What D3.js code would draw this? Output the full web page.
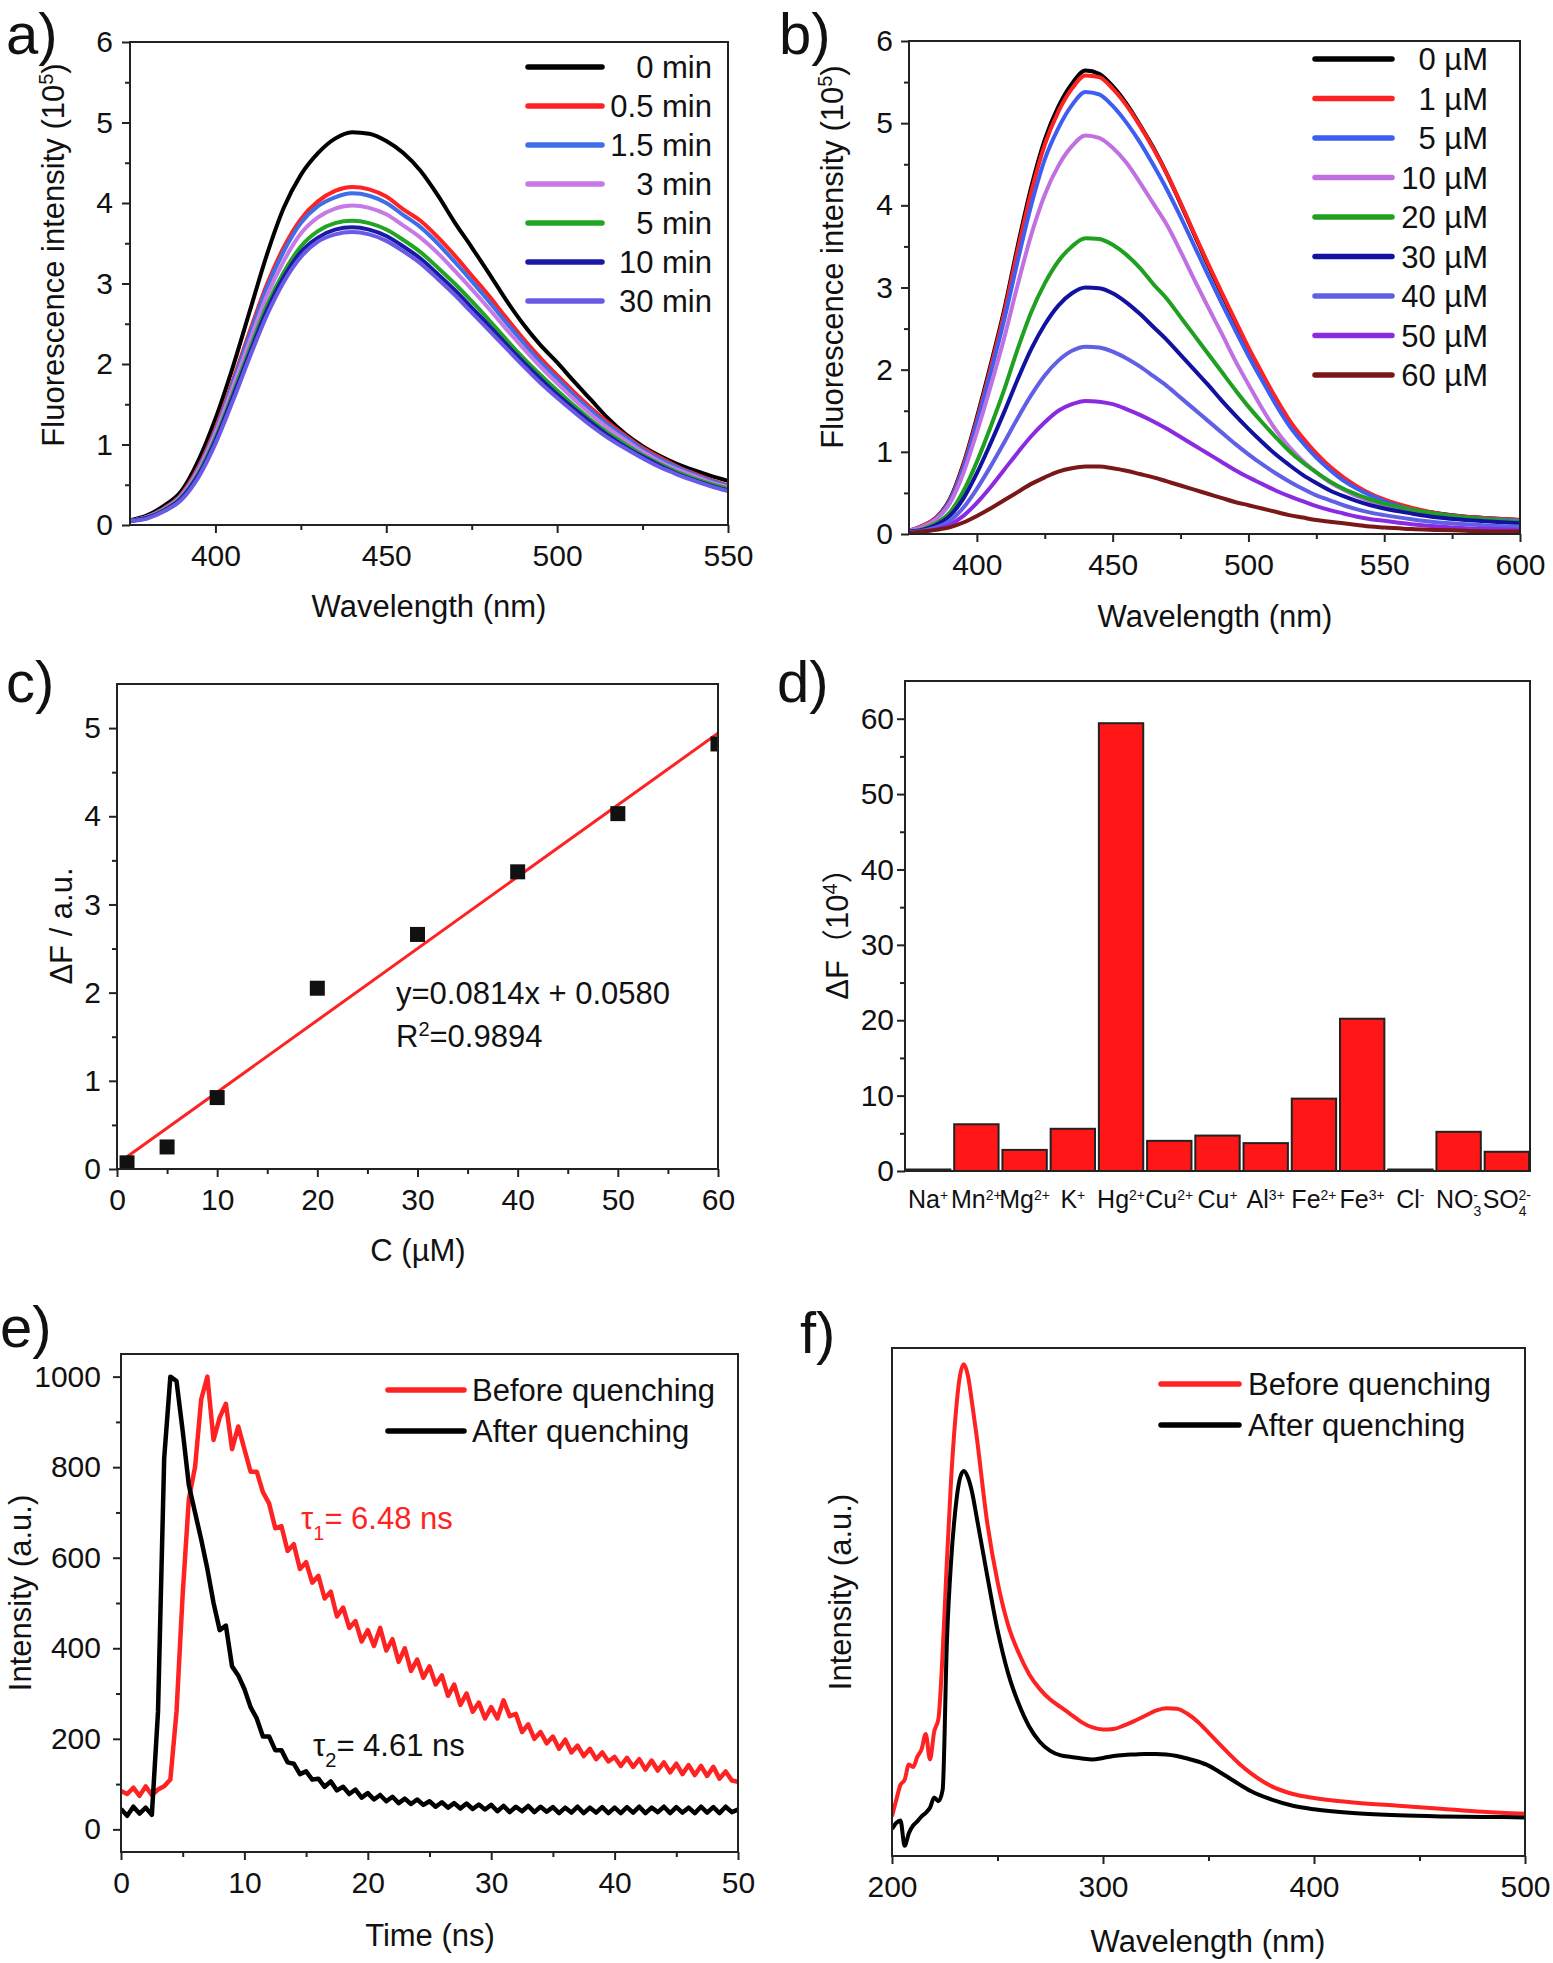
<!DOCTYPE html>
<html>
<head>
<meta charset="utf-8">
<script src="https://cdn.jsdelivr.net/npm/d3@7"></script>
<style>
  body { margin: 0; background: #fff; }
  svg text { font-family: "Liberation Sans", Arial, "Noto Sans CJK SC", sans-serif; fill: #111; }
</style>
</head>
<body>
<svg id="fig" width="1553" height="1963"></svg>
<script>
// ---------- panel a: emission vs time ----------
var wlA = [375,380,385,390,395,400,405,410,415,420,425,430,435,440,445,450,455,460,465,470,475,480,485,490,495,500,505,510,515,520,525,530,535,540,545,550];
var a0   = [0.06,0.12,0.24,0.42,0.80,1.32,1.95,2.65,3.35,3.94,4.35,4.62,4.80,4.88,4.86,4.77,4.62,4.40,4.10,3.76,3.45,3.13,2.80,2.50,2.24,2.02,1.78,1.55,1.32,1.13,0.98,0.86,0.76,0.68,0.61,0.55];
var a05  = [0.05,0.10,0.21,0.38,0.72,1.20,1.78,2.40,2.98,3.45,3.80,4.02,4.15,4.20,4.17,4.08,3.92,3.78,3.58,3.35,3.10,2.85,2.58,2.32,2.08,1.86,1.65,1.45,1.27,1.11,0.96,0.84,0.73,0.64,0.56,0.49];
var a15  = [0.05,0.10,0.20,0.37,0.70,1.17,1.75,2.36,2.94,3.40,3.75,3.96,4.07,4.12,4.09,4.00,3.85,3.70,3.50,3.27,3.03,2.78,2.52,2.27,2.03,1.82,1.61,1.42,1.24,1.09,0.94,0.82,0.72,0.63,0.55,0.48];
var a3   = [0.05,0.10,0.20,0.36,0.68,1.14,1.70,2.28,2.84,3.28,3.62,3.82,3.93,3.97,3.94,3.86,3.72,3.57,3.38,3.16,2.93,2.69,2.44,2.20,1.97,1.76,1.56,1.37,1.20,1.05,0.91,0.79,0.69,0.61,0.53,0.47];
var a5   = [0.05,0.09,0.19,0.34,0.64,1.08,1.62,2.18,2.72,3.14,3.46,3.65,3.75,3.78,3.75,3.67,3.54,3.39,3.20,3.00,2.78,2.55,2.31,2.08,1.87,1.67,1.48,1.30,1.14,1.00,0.87,0.76,0.66,0.58,0.51,0.45];
var a10  = [0.05,0.09,0.18,0.33,0.62,1.05,1.58,2.13,2.66,3.08,3.39,3.57,3.67,3.70,3.67,3.59,3.46,3.31,3.12,2.92,2.70,2.48,2.25,2.03,1.82,1.62,1.44,1.27,1.11,0.97,0.85,0.74,0.64,0.56,0.49,0.43];
var a30  = [0.05,0.08,0.17,0.31,0.59,1.01,1.53,2.08,2.60,3.02,3.33,3.52,3.61,3.64,3.61,3.53,3.40,3.25,3.06,2.86,2.64,2.42,2.20,1.98,1.77,1.58,1.40,1.23,1.08,0.95,0.83,0.72,0.63,0.55,0.48,0.42];
var labelsA = ["0 min","0.5 min","1.5 min","3 min","5 min","10 min","30 min"];
var colorsA = ["#000000","#ff2222","#3f6fe6","#c77ae6","#22a522","#1a1aa6","#6a5ae6"];

// ---------- panel b: emission vs Hg2+ ----------
var wlB = [375,380,385,390,395,400,405,410,415,420,425,430,435,440,445,450,455,460,465,470,475,480,485,490,495,500,505,510,515,520,525,530,535,540,545,550,560,570,580,590,600];
var b0  = [0.04,0.10,0.20,0.42,0.85,1.42,2.05,2.72,3.50,4.22,4.80,5.20,5.48,5.64,5.60,5.45,5.24,4.98,4.70,4.38,4.02,3.65,3.28,2.93,2.59,2.25,1.94,1.63,1.36,1.14,0.96,0.80,0.67,0.57,0.48,0.41,0.31,0.25,0.21,0.19,0.17];
var b1  = [0.04,0.10,0.20,0.41,0.83,1.39,2.01,2.68,3.45,4.16,4.74,5.14,5.42,5.58,5.56,5.42,5.22,4.97,4.69,4.38,4.03,3.66,3.30,2.95,2.61,2.27,1.96,1.66,1.39,1.17,0.98,0.82,0.69,0.58,0.49,0.42,0.32,0.25,0.21,0.19,0.17];
var b5  = [0.04,0.09,0.19,0.40,0.80,1.35,1.95,2.60,3.32,4.00,4.56,4.94,5.22,5.38,5.35,5.21,5.01,4.77,4.49,4.19,3.86,3.51,3.16,2.82,2.49,2.17,1.87,1.58,1.32,1.11,0.93,0.78,0.65,0.55,0.47,0.40,0.30,0.24,0.20,0.18,0.16];
var b10 = [0.04,0.09,0.18,0.37,0.74,1.24,1.79,2.38,3.03,3.64,4.13,4.48,4.72,4.85,4.82,4.70,4.52,4.28,4.02,3.76,3.44,3.10,2.77,2.45,2.12,1.82,1.53,1.27,1.06,0.89,0.75,0.63,0.54,0.46,0.40,0.35,0.27,0.22,0.19,0.17,0.15];
var b20 = [0.03,0.06,0.13,0.26,0.52,0.88,1.30,1.75,2.25,2.70,3.05,3.32,3.50,3.60,3.59,3.52,3.40,3.24,3.04,2.86,2.64,2.42,2.20,1.98,1.76,1.55,1.36,1.18,1.01,0.87,0.75,0.64,0.55,0.48,0.42,0.37,0.30,0.24,0.20,0.17,0.15];
var b30 = [0.03,0.05,0.11,0.22,0.43,0.74,1.10,1.48,1.88,2.25,2.55,2.78,2.93,3.00,2.99,2.93,2.82,2.68,2.52,2.36,2.18,2.00,1.82,1.63,1.45,1.28,1.12,0.97,0.84,0.72,0.62,0.53,0.46,0.40,0.35,0.31,0.25,0.20,0.17,0.15,0.13];
var b40 = [0.02,0.04,0.08,0.16,0.32,0.55,0.82,1.11,1.41,1.69,1.93,2.11,2.23,2.28,2.27,2.22,2.14,2.04,1.92,1.80,1.66,1.52,1.38,1.24,1.10,0.97,0.85,0.74,0.64,0.55,0.47,0.41,0.35,0.30,0.26,0.23,0.18,0.14,0.12,0.10,0.09];
var b50 = [0.02,0.03,0.06,0.11,0.22,0.38,0.57,0.78,0.99,1.19,1.36,1.50,1.58,1.62,1.61,1.58,1.52,1.45,1.37,1.28,1.18,1.08,0.98,0.88,0.78,0.69,0.61,0.53,0.46,0.40,0.34,0.29,0.25,0.21,0.18,0.16,0.12,0.09,0.07,0.06,0.05];
var b60 = [0.01,0.03,0.05,0.08,0.14,0.22,0.31,0.41,0.51,0.61,0.69,0.76,0.80,0.82,0.82,0.80,0.77,0.73,0.69,0.64,0.59,0.54,0.49,0.44,0.39,0.35,0.31,0.27,0.23,0.20,0.17,0.15,0.13,0.11,0.09,0.08,0.06,0.05,0.04,0.03,0.03];
var labelsB = ["0 \u00b5M","1 \u00b5M","5 \u00b5M","10 \u00b5M","20 \u00b5M","30 \u00b5M","40 \u00b5M","50 \u00b5M","60 \u00b5M"];
var colorsB = ["#000000","#ff2222","#3d5ef0","#c070e0","#20a020","#1212a0","#6060e6","#8a2be2","#7a1818"];

// ---------- panel c: linear fit ----------
var concC = [1,5,10,20,30,40,50,60];
var dfC = [0.07,0.25,0.81,2.05,2.66,3.37,4.03,4.82];
var fitX = [1,60];
var fitY = [0.139,4.942];

// ---------- panel d: selectivity ----------
var ionBase = ["Na","Mn","Mg","K","Hg","Cu","Cu","Al","Fe","Fe","Cl","NO","SO"];
var ionSub  = ["","","","","","","","","","","","3","4"];
var ionSup  = ["+","2+","2+","+","2+","2+","+","3+","2+","3+","-","-","2-"];
var dfD = [0.2,6.2,2.8,5.6,59.4,4.0,4.7,3.7,9.6,20.2,0.2,5.2,2.55];

// ---------- panel e: decay ----------
var timeE = [0,0.5,1,1.5,2,2.5,3,3.5,4,4.5,5,5.5,6,6.5,7,7.5,8,8.5,9,9.5,
  10,10.5,11,11.5,12,12.5,13,13.5,14,14.5,15,15.5,16,16.5,17,17.5,18,18.5,19,19.5,
  20,20.5,21,21.5,22,22.5,23,23.5,24,24.5,25,25.5,26,26.5,27,27.5,28,28.5,29,29.5,
  30,30.5,31,31.5,32,32.5,33,33.5,34,34.5,35,35.5,36,36.5,37,37.5,38,38.5,39,39.5,
  40,40.5,41,41.5,42,42.5,43,43.5,44,44.5,45,45.5,46,46.5,47,47.5,48,48.5,49,49.5,50];
var beforeE = [85,78,92,74,95,76,88,95,110,260,
  520,730,800,950,1000,860,910,940,840,890,
  840,790,790,745,720,665,670,615,630,575,
  590,545,560,510,525,470,490,445,460,415,
  440,405,445,395,420,370,400,350,375,335,
  360,320,340,295,320,275,300,260,280,245,
  270,245,285,250,255,215,232,200,215,190,
  205,178,198,170,185,162,178,155,170,150,
  160,140,158,138,155,132,152,130,148,126,
  145,122,142,120,140,118,138,112,128,108,105];
var afterE = [45,30,50,35,48,32,260,820,1000,990,
  880,760,700,640,575,500,440,450,360,340,
  310,270,245,205,205,175,175,148,145,122,
  128,110,112,94,106,86,94,78,88,70,
  80,66,76,62,72,58,68,56,66,54,
  62,50,60,48,58,46,57,45,55,44,
  54,40,52,38,50,40,52,38,50,39,
  49,36,48,37,50,36,48,37,49,36,
  48,36,49,37,50,36,48,38,50,36,
  49,37,48,36,50,37,49,36,50,38,44];

// ---------- panel f: excitation ----------
var wlF = [200,202,204,206,208,210,212,214,216,218,220,222,224,226,228,230,232,234,236,238,240,245,250,255,260,265,270,275,280,285,290,295,300,305,310,315,320,325,330,335,340,345,350,355,360,365,370,380,390,400,420,440,460,480,500];
var beforeF = [7.8,11.0,14.0,15.0,18.0,17.5,19.5,21.0,24.0,19.0,24.5,27.0,40.0,58.0,74.0,86.0,94.0,96.8,94.5,89.0,83.0,66.0,54.0,45.5,40.0,35.8,32.9,30.8,29.3,27.8,26.3,25.3,24.9,25.0,25.7,26.6,27.6,28.6,29.1,29.0,28.0,26.4,24.3,22.1,20.0,18.0,16.3,13.7,12.2,11.4,10.5,9.9,9.3,8.7,8.3];
var afterF = [5.3,6.5,7.0,2.0,4.5,6.0,6.8,7.8,8.5,9.5,11.5,10.8,13.0,42.0,58.0,68.0,74.0,75.8,74.5,71.5,67.0,55.5,44.5,36.0,30.0,25.5,22.5,20.7,19.8,19.5,19.2,19.0,19.3,19.7,19.9,20.0,20.1,20.1,20.0,19.7,19.2,18.6,17.8,16.6,15.3,14.0,12.8,11.1,9.9,9.2,8.4,8.0,7.8,7.7,7.6];
var labelsEF = ["Before quenching","After quenching"];
var colorsEF = ["#ff2222","#000000"];

var svg = d3.select("#fig");
var clipCount = 0;
var plain = function (d) { return String(d); };

function panel(r, xs, ys, o) {
  var g = svg.append("g");
  var id = "clip" + (clipCount++);
  g.append("clipPath").attr("id", id).append("rect")
    .attr("x", r.l).attr("y", r.t).attr("width", r.r - r.l).attr("height", r.b - r.t);
  var plot = g.append("g").attr("clip-path", "url(#" + id + ")");
  if (o.xTicks) {
    g.append("g").attr("class", "ax").attr("transform", "translate(0," + r.b + ")")
      .call(d3.axisBottom(xs).tickValues(o.xTicks).tickFormat(plain).tickSize(8).tickPadding(12).tickSizeOuter(0));
    g.append("g").attr("class", "ax").attr("transform", "translate(0," + r.b + ")")
      .call(d3.axisBottom(xs).tickValues(o.xMinor).tickSize(5).tickFormat("").tickSizeOuter(0));
  }
  if (o.yTicks) {
    g.append("g").attr("class", "ax").attr("transform", "translate(" + r.l + ",0)")
      .call(d3.axisLeft(ys).tickValues(o.yTicks).tickFormat(plain).tickSize(8).tickPadding(o.yPad).tickSizeOuter(0));
    g.append("g").attr("class", "ax").attr("transform", "translate(" + r.l + ",0)")
      .call(d3.axisLeft(ys).tickValues(o.yMinor).tickSize(5).tickFormat("").tickSizeOuter(0));
  }
  g.selectAll(".ax").attr("font-size", 30).attr("color", "#222");
  g.selectAll(".ax .domain").remove();
  g.selectAll(".ax line").attr("stroke-width", 2);
  g.append("rect").attr("x", r.l).attr("y", r.t)
    .attr("width", r.r - r.l).attr("height", r.b - r.t)
    .attr("fill", "none").attr("stroke", "#222").attr("stroke-width", 2);
  return plot;
}

function label(x, y, html, o) {
  o = o || {};
  var t = svg.append("text").attr("x", x).attr("y", y)
    .attr("font-size", o.size || 31).attr("text-anchor", o.anchor || "start").html(html);
  if (o.rotate) t.attr("transform", "rotate(-90," + x + "," + y + ")");
  if (o.fill) t.style("fill", o.fill);
  return t;
}

function legend(x1, x2, tx, y0, step, names, colors, anchor) {
  names.forEach(function (n, i) {
    var y = y0 + i * step;
    svg.append("line").attr("x1", x1).attr("x2", x2).attr("y1", y).attr("y2", y)
      .attr("stroke", colors[i]).attr("stroke-width", 5.5).attr("stroke-linecap", "round");
    svg.append("text").attr("x", tx).attr("y", y).attr("dy", "0.36em")
      .attr("font-size", 31).attr("text-anchor", anchor).text(n);
  });
}

function curves(plot, xs, ys, xv, list, colors, curve, w) {
  var line = d3.line().curve(curve)
    .x(function (d, i) { return xs(xv[i]); })
    .y(function (d) { return ys(d); });
  list.forEach(function (vals, i) {
    plot.append("path").attr("d", line(vals)).attr("fill", "none")
      .attr("stroke", colors[i]).attr("stroke-width", w).attr("stroke-linejoin", "round");
  });
}

var sup = function (s) { return '<tspan baseline-shift="super" font-size="20">' + s + '</tspan>'; };
var sub = function (s) { return '<tspan baseline-shift="sub" font-size="20">' + s + '</tspan>'; };

// ---- a ----
var rA = { l: 130, r: 728, t: 42, b: 525 };
var xA = d3.scaleLinear().domain([375, 550]).range([rA.l, rA.r]);
var yA = d3.scaleLinear().domain([0, 6]).range([rA.b, rA.t]);
var pA = panel(rA, xA, yA, { xTicks: [400,450,500,550], xMinor: [425,475,525],
  yTicks: [0,1,2,3,4,5,6], yMinor: [0.5,1.5,2.5,3.5,4.5,5.5], yPad: 9 });
curves(pA, xA, yA, wlA, [a0,a05,a15,a3,a5,a10,a30], colorsA, d3.curveMonotoneX, 4);
legend(528, 602, 712, 67, 39, labelsA, colorsA, "end");
label(429, 617, "Wavelength (nm)", { anchor: "middle" });
label(64, 255, "Fluorescence intensity (10" + sup("5") + ")", { anchor: "middle", rotate: true });
label(6, 54, "a)", { size: 58 });

// ---- b ----
var rB = { l: 909, r: 1520, t: 41, b: 534 };
var xB = d3.scaleLinear().domain([375, 600]).range([rB.l, rB.r]);
var yB = d3.scaleLinear().domain([0, 6]).range([rB.b, rB.t]);
var pB = panel(rB, xB, yB, { xTicks: [400,450,500,550,600], xMinor: [425,475,525,575],
  yTicks: [0,1,2,3,4,5,6], yMinor: [0.5,1.5,2.5,3.5,4.5,5.5], yPad: 8 });
curves(pB, xB, yB, wlB, [b0,b1,b5,b10,b20,b30,b40,b50,b60], colorsB, d3.curveMonotoneX, 4);
legend(1315, 1392, 1488, 59, 39.5, labelsB, colorsB, "end");
label(1215, 627, "Wavelength (nm)", { anchor: "middle" });
label(843, 257, "Fluorescence intensity (10" + sup("5") + ")", { anchor: "middle", rotate: true });
label(779, 54, "b)", { size: 58 });

// ---- c ----
var rC = { l: 117, r: 718, t: 684, b: 1169 };
var xC = d3.scaleLinear().domain([0, 60]).range([rC.l, rC.r]);
var yC = d3.scaleLinear().domain([0, 5.5]).range([rC.b, rC.t]);
var pC = panel(rC, xC, yC, { xTicks: [0,10,20,30,40,50,60], xMinor: [5,15,25,35,45,55],
  yTicks: [0,1,2,3,4,5], yMinor: [0.5,1.5,2.5,3.5,4.5], yPad: 8 });
pC.append("path")
  .attr("d", d3.line().x(function (d, i) { return xC(fitX[i]); }).y(function (d) { return yC(d); })(fitY))
  .attr("stroke", "#ff2222").attr("stroke-width", 3).attr("fill", "none");
pC.selectAll("rect.pt").data(dfC).enter().append("rect").attr("class", "pt")
  .attr("x", function (d, i) { return xC(concC[i]) - 7.5; })
  .attr("y", function (d) { return yC(d) - 7.5; })
  .attr("width", 15).attr("height", 15).attr("fill", "#111");
label(396, 1004, "y=0.0814x + 0.0580");
label(396, 1047, "R" + sup("2") + "=0.9894");
label(418, 1261, "C (\u00b5M)", { anchor: "middle" });
label(72, 926, "\u0394F / a.u.", { anchor: "middle", rotate: true });
label(6, 702, "c)", { size: 58 });

// ---- d ----
var rD = { l: 905, r: 1530, t: 681, b: 1171 };
var xD = d3.scaleBand().domain(d3.range(ionBase.length)).range([rD.l, rD.r]).paddingInner(0.08).paddingOuter(0.02);
var yD = d3.scaleLinear().domain([0, 65]).range([rD.b, rD.t]);
var pD = panel(rD, xD, yD, { yTicks: [0,10,20,30,40,50,60], yMinor: [5,15,25,35,45,55], yPad: 3 });
pD.selectAll("rect.bar").data(dfD).enter().append("rect").attr("class", "bar")
  .attr("x", function (d, i) { return xD(i); })
  .attr("y", function (d) { return yD(d); })
  .attr("width", xD.bandwidth())
  .attr("height", function (d) { return rD.b - yD(d); })
  .attr("fill", "#ff1616").attr("stroke", "#222").attr("stroke-width", 2);
ionBase.forEach(function (b, i) {
  var h = b;
  if (ionSub[i]) h += '<tspan baseline-shift="sub" font-size="14">' + ionSub[i] + '</tspan>' +
    '<tspan dx="-8" baseline-shift="super" font-size="14">' + ionSup[i] + '</tspan>';
  else h += '<tspan baseline-shift="super" font-size="14">' + ionSup[i] + '</tspan>';
  label(xD(i) + xD.bandwidth() / 2, 1208, h, { anchor: "middle", size: 25 });
});
label(848, 926, "\u0394F\uff0810" + sup("4") + "\uff09", { anchor: "middle", rotate: true });
label(777, 702, "d)", { size: 58 });

// ---- e ----
var rE = { l: 121, r: 738, t: 1354, b: 1852 };
var xE = d3.scaleLinear().domain([0, 50]).range([rE.l, rE.r]);
var yE = d3.scaleLinear().domain([-50, 1050]).range([rE.b, rE.t]);
var pE = panel(rE, xE, yE, { xTicks: [0,10,20,30,40,50], xMinor: [5,15,25,35,45],
  yTicks: [0,200,400,600,800,1000], yMinor: [100,300,500,700,900], yPad: 12 });
curves(pE, xE, yE, timeE, [beforeE, afterE], colorsEF, d3.curveLinear, 4.5);
legend(388, 464, 472, 1390, 41, labelsEF, colorsEF, "start");
label(301, 1529, "\u03c4" + sub("1") + "= 6.48 ns", { fill: "#ff2222" });
label(313, 1756, "\u03c4" + sub("2") + "= 4.61 ns");
label(430, 1946, "Time (ns)", { anchor: "middle" });
label(31, 1593, "Intensity (a.u.)", { anchor: "middle", rotate: true });
label(0, 1347, "e)", { size: 58 });

// ---- f ----
var rF = { l: 892, r: 1525, t: 1348, b: 1856 };
var xF = d3.scaleLinear().domain([200, 500]).range([rF.l, rF.r]);
var yF = d3.scaleLinear().domain([0, 100]).range([rF.b, rF.t]);
var pF = panel(rF, xF, yF, { xTicks: [200,300,400,500], xMinor: [250,350,450] });
curves(pF, xF, yF, wlF, [beforeF, afterF], colorsEF, d3.curveMonotoneX, 4);
legend(1161, 1239, 1248, 1384, 41, labelsEF, colorsEF, "start");
label(1208, 1952, "Wavelength (nm)", { anchor: "middle" });
label(851, 1592, "Intensity (a.u.)", { anchor: "middle", rotate: true });
label(800, 1353, "f)", { size: 58 });
</script>
</body>
</html>
